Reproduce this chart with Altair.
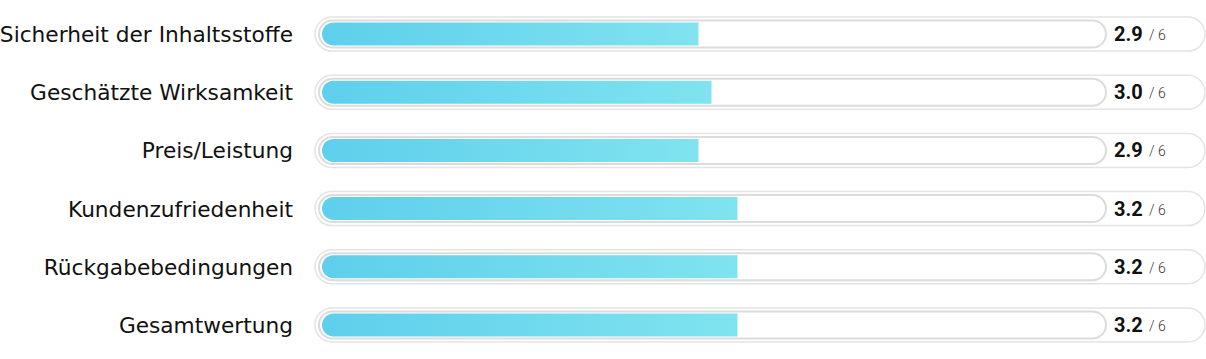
import altair as alt
import pandas as pd

categories = [
    "Sicherheit der Inhaltsstoffe",
    "Geschätzte Wirksamkeit",
    "Preis/Leistung",
    "Kundenzufriedenheit",
    "Rückgabebedingungen",
    "Gesamtwertung",
]
scores = [2.9, 3.0, 2.9, 3.2, 3.2, 3.2]
max_score = 6

df = pd.DataFrame({
    "cat": categories,
    "score": scores,
    "label": [f"{s:.1f}" for s in scores],
    "of": [f"/ {max_score}" for _ in scores],
    "zero": [0] * len(scores),
})

y = alt.Y("cat:N", sort=categories, axis=None,
          scale=alt.Scale(paddingInner=0, paddingOuter=0))
xs = alt.Scale(domain=[0, max_score], range=[322, 1101])

outer = alt.Chart(df).mark_bar(
    size=34, cornerRadius=17, fill="white", stroke="#e4e4e4", strokeWidth=1.5
).encode(y=y, x=alt.value(315), x2=alt.value(1205))

track = alt.Chart(df).mark_bar(
    size=27, cornerRadius=13.5, fill="white", stroke="#dcdcdc", strokeWidth=2
).encode(y=y, x=alt.value(319), x2=alt.value(1106))

fill = alt.Chart(df).mark_bar(
    size=23,
    cornerRadiusTopLeft=11.5,
    cornerRadiusBottomLeft=11.5,
    color=alt.Gradient(
        gradient="linear",
        stops=[alt.GradientStop(color="#5ecfec", offset=0),
               alt.GradientStop(color="#80e3ef", offset=1)],
        x1=0, x2=1, y1=0, y2=0,
    ),
).encode(
    y=y,
    x=alt.X("zero:Q", scale=xs, axis=None),
    x2="score:Q",
)

labels = alt.Chart(df).mark_text(
    align="right", baseline="middle", font="DejaVu Sans", fontSize=21.7,
    color="#111111", dy=1
).encode(y=y, x=alt.value(293), text="cat:N")

vals = alt.Chart(df).mark_text(
    align="left", baseline="middle", font="Roboto", fontSize=20,
    fontWeight="bold", color="#111111", dy=1
).encode(y=y, x=alt.value(1114), text="label:N")

ofs = alt.Chart(df).mark_text(
    align="left", baseline="middle", font="Roboto", fontSize=14,
    fontWeight=300, color="#333333", dy=2
).encode(y=y, x=alt.value(1149), text="of:N")

chart = alt.layer(outer, track, fill, labels, vals, ofs).properties(
    width=1206, height=349,
    padding={"left": 0, "right": 0, "top": 5, "bottom": 5},
    autosize=alt.AutoSizeParams(type="none"),
).configure_view(stroke=None)

chart.save("out.html", embed_options={"renderer": "svg", "actions": False})
